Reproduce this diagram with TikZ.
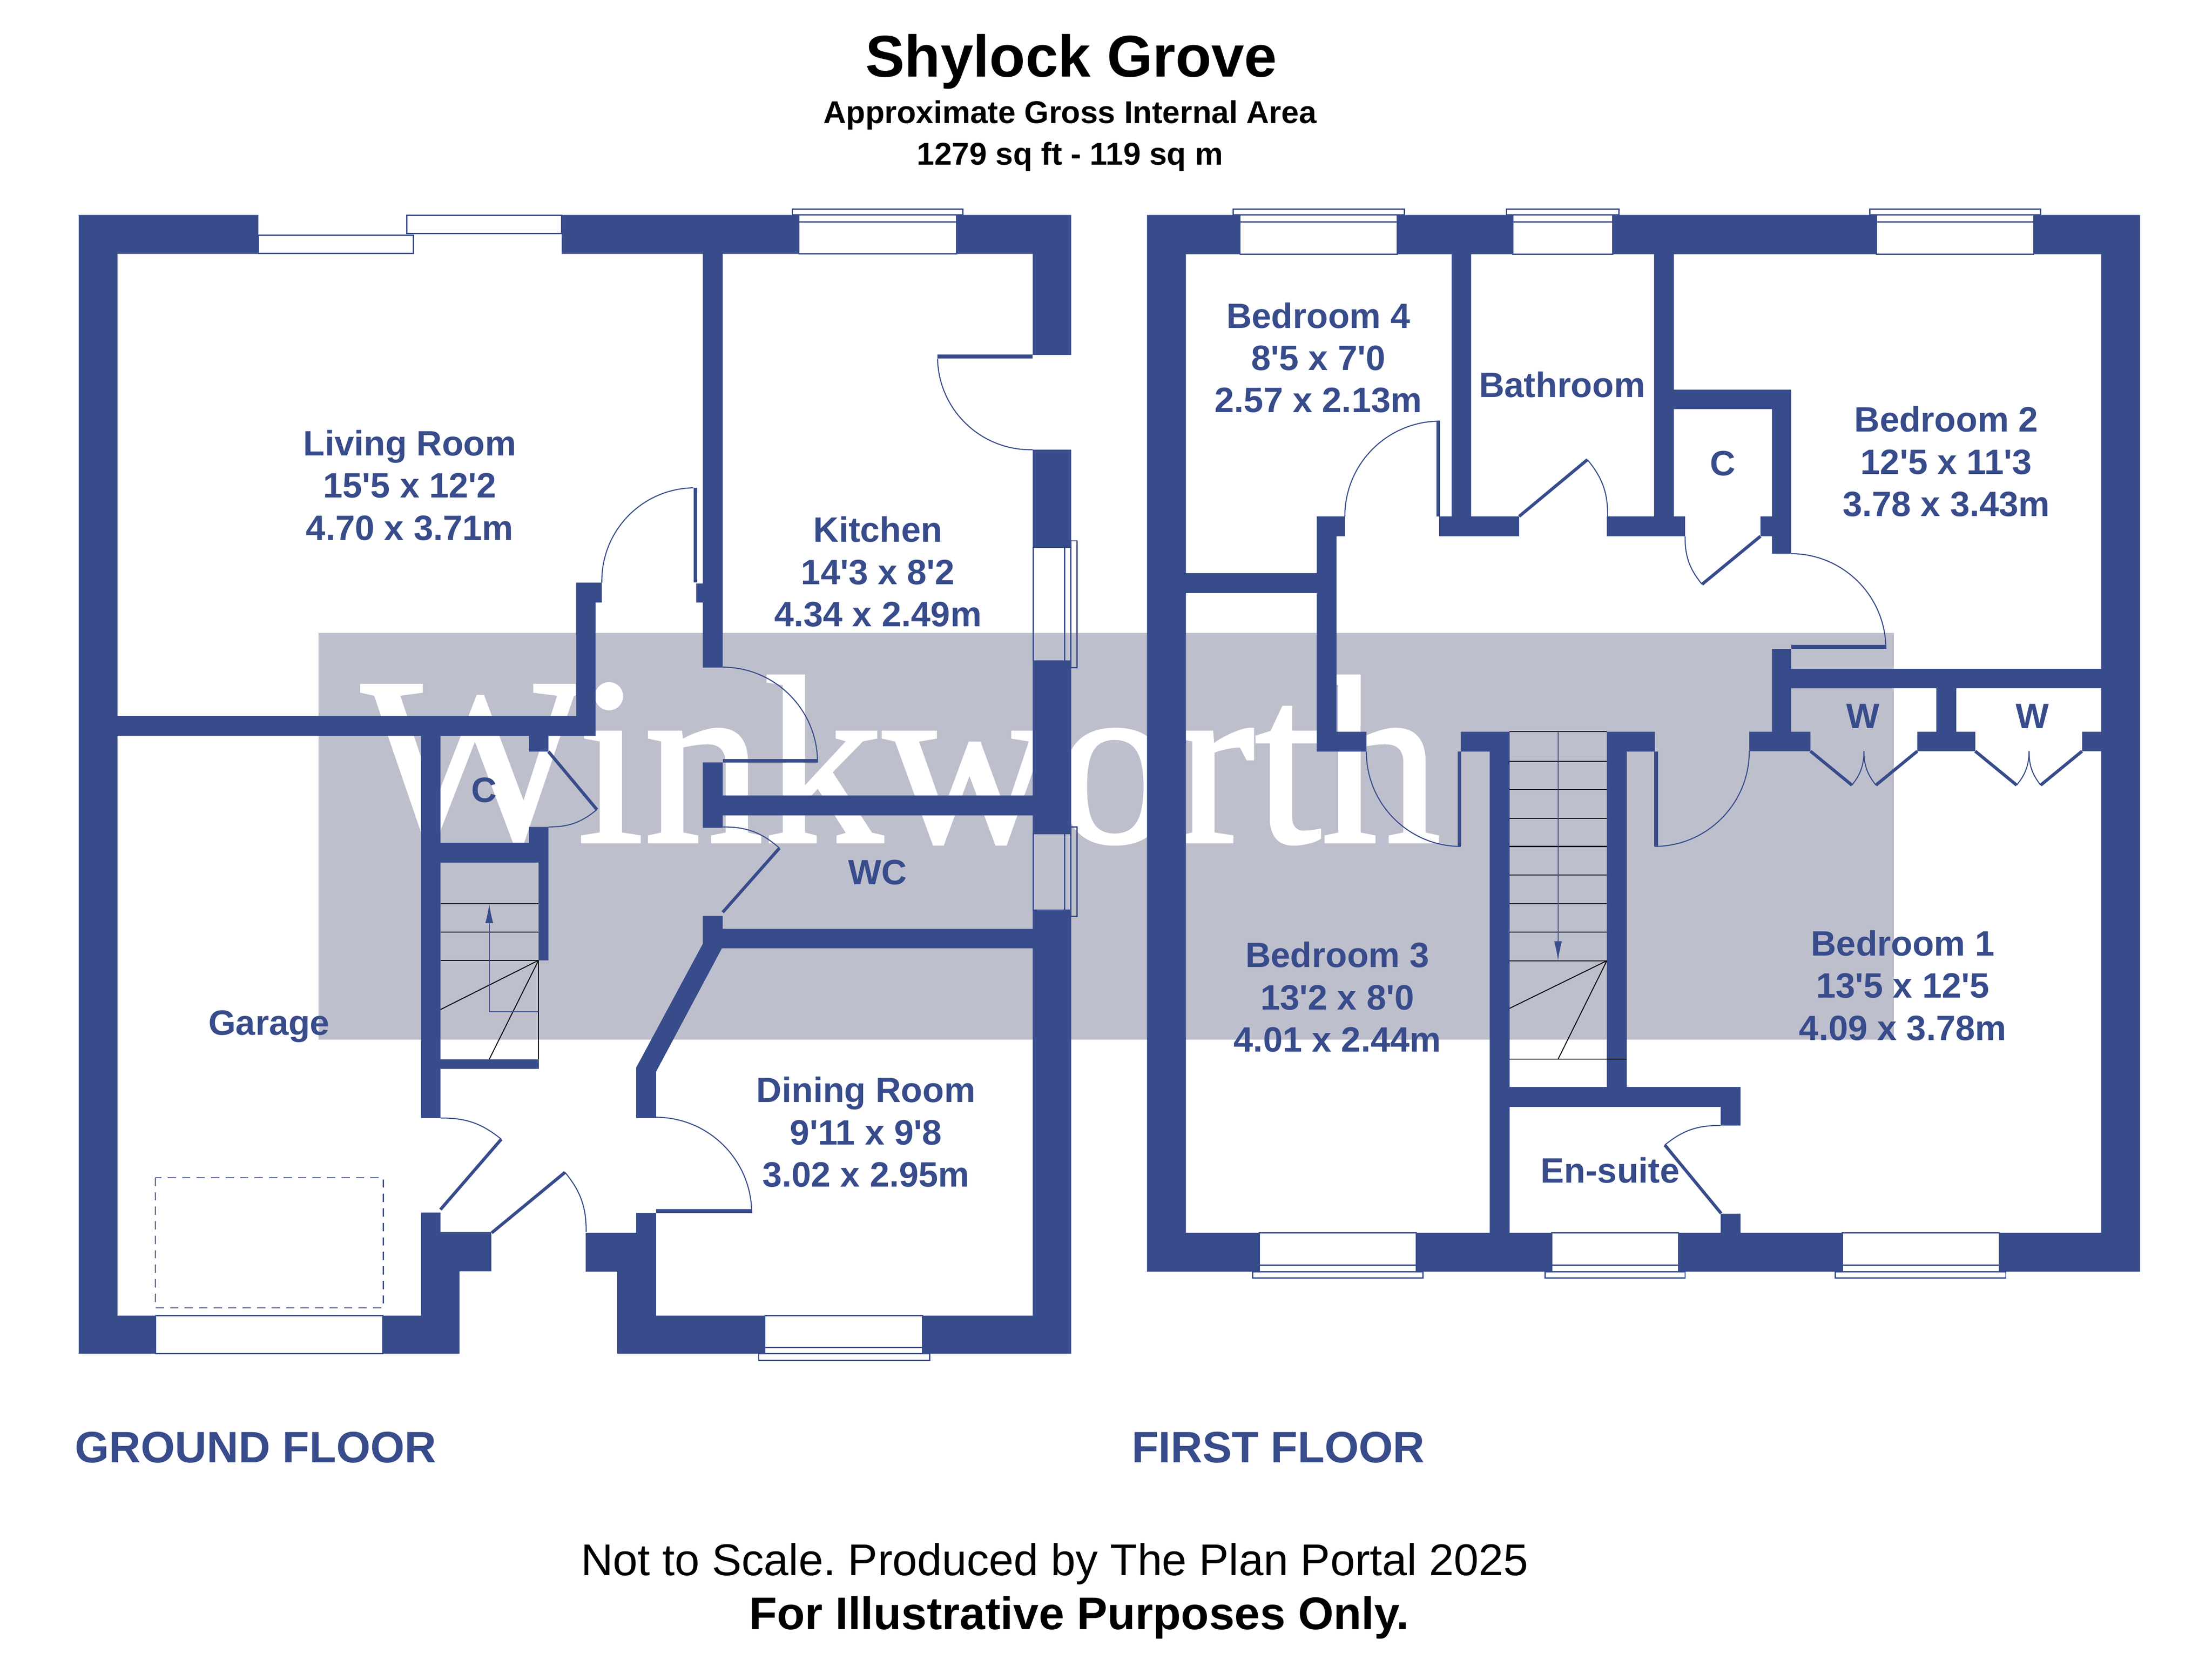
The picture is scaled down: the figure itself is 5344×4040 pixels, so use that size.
\documentclass[tikz,border=0pt]{standalone}
\usepackage{fontspec}
\usepackage{xcolor}
\usetikzlibrary{positioning, arrows.meta}
\newfontfamily\planfont{Liberation Sans}
\newfontfamily\markfont[FakeBold=1.2]{Liberation Serif}
\definecolor{planblue}{HTML}{384C8B}
\definecolor{markgrey}{HTML}{BEBFCD}

\begin{document}
\begin{tikzpicture}[
    x=0.2pt, y=-0.2pt,
    wallfill/.style={fill=planblue},
    windowline/.style={draw=planblue, line width=0.55pt},
    doorleaf/.style={draw=planblue, line width=1.5pt},
    doorarc/.style={draw=planblue, line width=0.5pt},
    stairline/.style={draw=black, line width=0.45pt},
    stairarrow/.style={draw=planblue, line width=0.5pt, -{Latex[length=9.4pt,width=3.8pt]}},
    roomlabel/.style={anchor=base, inner sep=0pt, align=center, text=planblue, font=\planfont\bfseries\fontsize{17}{20.4}\selectfont},
    floorlabel/.style={anchor=base west, inner sep=0pt, text=planblue, font=\planfont\bfseries\fontsize{21.25}{25}\selectfont},
    footlabel/.style={anchor=base, inner sep=0pt, text=black},
]
\useasboundingbox (0,0) rectangle (5344,4040);

\fill[markgrey] (770,1528) rectangle (4576,2511);
\node[anchor=base west, inner sep=0pt, text=white, font=\markfont\fontsize{115.5}{115.5}\selectfont](watermark) at (872,2033){Winkworth};

\fill[wallfill] (190,519) rectangle (284,3269)
    (190,519) rectangle (624,613)
    (1357,519) rectangle (1930,613)
    (2311,519) rectangle (2588,613)
    (2495,519) rectangle (2588,857)
    (2495,1086) rectangle (2588,1322)
    (2495,1596) rectangle (2588,2013)
    (2495,2198) rectangle (2588,3269)
    (190,3177) rectangle (376,3269)
    (925,3177) rectangle (1110,3269)
    (1491,3177) rectangle (1848,3269)
    (2229,3177) rectangle (2588,3269)
    (1698,613) rectangle (1746,1612)
    (1698,1841) rectangle (1746,1999)
    (1698,2212) rectangle (1746,2290)
    (1682,1409) rectangle (1698,1455)
    (1392,1407) rectangle (1454,1455)
    (1392,1407) rectangle (1439,1777)
    (284,1729) rectangle (1439,1777)
    (1017,1777) rectangle (1064,2700)
    (1017,2928) rectangle (1064,3177)
    (1017,2975) rectangle (1187,3070)
    (1017,3070) rectangle (1110,3177)
    (1278,1777) rectangle (1325,1815)
    (1278,1997) rectangle (1325,2035)
    (1064,2035) rectangle (1325,2083)
    (1301,2083) rectangle (1325,2319)
    (1064,2558) rectangle (1302,2581)
    (1746,1921) rectangle (2495,1969)
    (1746,2243) rectangle (2495,2290)
    (1537,2929) rectangle (1585,3177)
    (1415,2977) rectangle (1585,3071)
    (1491,3071) rectangle (1585,3177);
\fill[wallfill] (1698,2279) -- (1746,2279) -- (1746,2290) -- (1744,2290) -- (1585,2588) -- (1585,2700) -- (1537,2700) -- (1537,2578) -- cycle;

\fill[wallfill] (2771,519) rectangle (2865,3071)
    (2771,519) rectangle (2996,614)
    (3376,519) rectangle (3655,614)
    (3896,519) rectangle (4533,614)
    (4913,519) rectangle (5170,614)
    (5076,519) rectangle (5170,3071)
    (2771,2977) rectangle (3042,3071)
    (3422,2977) rectangle (3749,3071)
    (4055,2977) rectangle (4451,3071)
    (4830,2977) rectangle (5170,3071)
    (3507,614) rectangle (3554,1247)
    (3996,614) rectangle (4044,1247)
    (3477,1247) rectangle (3670,1295)
    (3882,1247) rectangle (4071,1295)
    (2865,1384) rectangle (3181,1432)
    (3181,1247) rectangle (3229,1815)
    (3181,1247) rectangle (3249,1295)
    (3181,1767) rectangle (3301,1815)
    (3529,1767) rectangle (3647,1815)
    (3599,1767) rectangle (3647,2977)
    (3882,1767) rectangle (3998,1815)
    (3882,1767) rectangle (3930,2625)
    (3599,2625) rectangle (4205,2673)
    (4157,2625) rectangle (4205,2718)
    (4157,2931) rectangle (4205,2977)
    (4044,941) rectangle (4327,988)
    (4281,941) rectangle (4327,1337)
    (4253,1247) rectangle (4281,1295)
    (4281,1567) rectangle (4327,1814)
    (4226,1767) rectangle (4374,1814)
    (4327,1615) rectangle (5076,1662)
    (4632,1767) rectangle (4772,1814)
    (4678,1662) rectangle (4726,1767)
    (5030,1767) rectangle (5076,1814);

\draw[windowline] (624,568) rectangle (999,612);
\draw[windowline] (983,520) rectangle (1357,564);
\draw[windowline] (1930,519) rectangle (2311,613);
\draw[windowline] (1930,536) -- (2311,536);
\draw[windowline] (1914,505) rectangle (2326,519);
\draw[windowline] (2496,1322) rectangle (2587,1596);
\draw[windowline] (2572,1322) -- (2572,1596);
\draw[windowline] (2587,1306) rectangle (2602,1612);
\draw[windowline] (2496,2013) rectangle (2587,2198);
\draw[windowline] (2572,2013) -- (2572,2198);
\draw[windowline] (2587,1997) rectangle (2602,2213);
\draw[windowline] (1848,3177) rectangle (2229,3269);
\draw[windowline] (1848,3254) -- (2229,3254);
\draw[windowline] (1833,3269) rectangle (2246,3285);
\draw[windowline] (376,3177) rectangle (925,3269);

\draw[windowline] (2996,519) rectangle (3376,614);
\draw[windowline] (2996,536) -- (3376,536);
\draw[windowline] (2979,505) rectangle (3393,519);
\draw[windowline] (3655,519) rectangle (3896,614);
\draw[windowline] (3655,536) -- (3896,536);
\draw[windowline] (3639,505) rectangle (3911,519);
\draw[windowline] (4533,519) rectangle (4913,614);
\draw[windowline] (4533,536) -- (4913,536);
\draw[windowline] (4517,505) rectangle (4930,519);
\draw[windowline] (3042,2977) rectangle (3422,3071);
\draw[windowline] (3042,3055) -- (3422,3055);
\draw[windowline] (3026,3071) rectangle (3438,3086);
\draw[windowline] (3749,2977) rectangle (4055,3071);
\draw[windowline] (3749,3055) -- (4055,3055);
\draw[windowline] (3733,3071) rectangle (4071,3086);
\draw[windowline] (4451,2977) rectangle (4830,3071);
\draw[windowline] (4451,3055) -- (4830,3055);
\draw[windowline] (4434,3071) rectangle (4846,3086);

\draw[windowline, dash pattern=on 4pt off 3pt, line width=0.5pt] (375,2844) rectangle (926,3158);

\draw[doorleaf, line width=1.8pt] (2265,861) -- (2495,861);
\draw[doorarc] (2265,866) to[bend right=45] (2495,1086);
\draw[doorleaf, line width=1.8pt] (1680,1178) -- (1680,1407);
\draw[doorarc] (1675,1178) to[bend right=45] (1454,1407);
\draw[doorleaf, line width=1.8pt] (1746,1837) -- (1975,1837);
\draw[doorarc] (1746,1611) to[bend left=45] (1975,1841);
\draw[doorleaf] (1746,2203) -- (1883,2048);
\draw[doorarc] (1746,1997) to[bend left=21] (1883,2048);
\draw[doorleaf] (1325,1815) -- (1442,1955);
\draw[doorarc] (1442,1955) to[bend left=20] (1325,1997);
\draw[doorleaf] (1064,2921) -- (1211,2751);
\draw[doorarc] (1064,2700) to[bend left=20] (1211,2751);
\draw[doorleaf] (1188,2977) -- (1365,2831);
\draw[doorarc] (1365,2831) to[bend left=20] (1416,2975);
\draw[doorleaf, line width=1.9pt] (1585,2925) -- (1816,2925);
\draw[doorarc] (1585,2698) to[bend left=45] (1816,2930);

\draw[doorleaf, line width=1.7pt] (3475,1017) -- (3475,1247);
\draw[doorarc] (3479,1017) to[bend right=45] (3249,1247);
\draw[doorleaf] (3670,1247) -- (3835,1110);
\draw[doorarc] (3835,1110) to[bend left=20] (3884,1247);
\draw[doorleaf] (4253,1295) -- (4112,1411);
\draw[doorarc] (4071,1295) to[bend right=20] (4112,1411);
\draw[doorleaf, line width=1.8pt] (4327,1562) -- (4556,1562);
\draw[doorarc] (4327,1337) to[bend left=45] (4556,1567);
\draw[doorleaf, line width=1.7pt] (3526,1815) -- (3526,2044);
\draw[doorarc] (3301,1815) to[bend right=45] (3529,2044);
\draw[doorleaf, line width=1.8pt] (4001,1815) -- (4001,2044);
\draw[doorarc] (4226,1814) to[bend left=45] (3997,2044);
\draw[doorleaf] (4374,1814) -- (4474,1896);
\draw[doorarc] (4474,1896) to[bend right=19] (4503,1814);
\draw[doorarc] (4503,1814) to[bend right=19] (4532,1896);
\draw[doorleaf] (4632,1814) -- (4532,1896);
\draw[doorleaf] (4772,1814) -- (4872,1896);
\draw[doorarc] (4872,1896) to[bend right=19] (4902,1814);
\draw[doorarc] (4902,1814) to[bend right=19] (4930,1896);
\draw[doorleaf] (5030,1814) -- (4930,1896);
\draw[doorleaf] (4158,2930) -- (4022,2765);
\draw[doorarc] (4157,2718) to[bend right=20] (4022,2765);

\draw[stairline] (1064,2182) -- (1301,2182);
\draw[stairline] (1064,2251) -- (1301,2251);
\draw[stairline] (1064,2319) -- (1301,2319);
\draw[stairline] (1301,2319) -- (1064,2438);
\draw[stairline] (1301,2319) -- (1182,2558);
\draw[stairline] (1301,2319) -- (1301,2558);
\draw[stairarrow] (1301,2443) -- (1182,2443) -- (1182,2182);

\draw[stairline] (3647,1767) -- (3882,1767);
\draw[stairline] (3647,1838) -- (3882,1838);
\draw[stairline] (3647,1907) -- (3882,1907);
\draw[stairline] (3647,1976) -- (3882,1976);
\draw[stairline] (3647,2044) -- (3882,2044);
\draw[stairline] (3647,2113) -- (3882,2113);
\draw[stairline] (3647,2182) -- (3882,2182);
\draw[stairline] (3647,2251) -- (3882,2251);
\draw[stairline] (3647,2320) -- (3882,2320);
\draw[stairline] (3882,2320) -- (3647,2435);
\draw[stairline] (3882,2320) -- (3764,2558);
\draw[stairline] (3647,2558) -- (3930,2558);
\draw[stairarrow] (3764,1767) -- (3764,2320);

\node[anchor=base, inner sep=0pt, font=\planfont\bfseries\fontsize{28.4}{34}\selectfont](title) at (2588,185){Shylock Grove};
\node[anchor=base, inner sep=0pt, align=center, font=\planfont\bfseries\fontsize{15.2}{20}\selectfont](area) at (2585,398){Approximate Gross Internal Area\\1279 sq ft - 119 sq m};

\node[roomlabel](livingroom) at (990,1304){Living Room\\15'5 x 12'2\\4.70 x 3.71m};
\node[roomlabel](kitchen) at (2121,1513){Kitchen\\14'3 x 8'2\\4.34 x 2.49m};
\node[roomlabel](wc) at (2120,2136){WC};
\node[roomlabel](garage) at (650,2499){Garage};
\node[roomlabel](cupboardg) at (1170,1937){C};
\node[roomlabel](diningroom) at (2092,2866){Dining Room\\9'11 x 9'8\\3.02 x 2.95m};
\node[roomlabel](bedroomfour) at (3185,996){Bedroom 4\\8'5 x 7'0\\2.57 x 2.13m};
\node[roomlabel](bathroom) at (3774,959){Bathroom};
\node[roomlabel](cupboardf) at (4162,1148){C};
\node[roomlabel](bedroomtwo) at (4702,1247){Bedroom 2\\12'5 x 11'3\\3.78 x 3.43m};
\node[roomlabel](wardrobea) at (4501,1759){W};
\node[roomlabel](wardrobeb) at (4910,1759){W};
\node[roomlabel](bedroomthree) at (3231,2540){Bedroom 3\\13'2 x 8'0\\4.01 x 2.44m};
\node[roomlabel](bedroomone) at (4597,2512){Bedroom 1\\13'5 x 12'5\\4.09 x 3.78m};
\node[roomlabel](ensuite) at (3890,2856){En-suite};

\node[floorlabel](groundfloor) at (180,3532){GROUND FLOOR};
\node[floorlabel](firstfloor) at (2733,3532){FIRST FLOOR};

\node[footlabel, font=\planfont\fontsize{21.5}{26}\selectfont](scalenote) at (2548,3804){Not to Scale.\ Produced by The Plan Portal 2025};
\node[footlabel, font=\planfont\bfseries\fontsize{22.1}{26}\selectfont](purposenote) at (2607,3935){For Illustrative Purposes Only.};
\end{tikzpicture}
\end{document}
